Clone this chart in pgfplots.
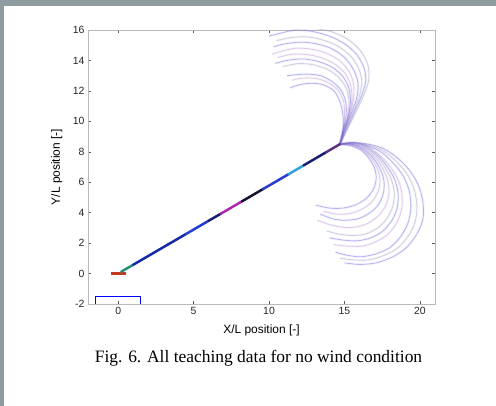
\documentclass[border=0pt]{standalone}
\usepackage{pgfplots}
\pgfplotsset{compat=1.18}
\usepackage{fontspec}
\setmainfont{Liberation Sans}
\newfontfamily\timesfont{Liberation Serif}
\definecolor{bggray}{RGB}{142,156,160}
\definecolor{arcblue}{RGB}{100,90,225}
\definecolor{arcgray}{RGB}{140,135,170}
\definecolor{arcpink}{RGB}{175,120,205}
\definecolor{segteal}{RGB}{40,140,120}
\definecolor{segdblue}{RGB}{20,40,170}
\definecolor{segblue}{RGB}{35,60,210}
\definecolor{segnavy}{RGB}{25,30,110}
\definecolor{segmag}{RGB}{170,40,170}
\definecolor{segblack}{RGB}{20,20,50}
\definecolor{segcyan}{RGB}{50,160,225}
\definecolor{segpurp}{RGB}{90,50,130}
\definecolor{segred}{RGB}{195,55,30}
\pgfplotsset{
  arc/.style={arcblue, line width=0.8pt, opacity=0.42, smooth, mark=none,
    preaction={draw=arcblue, line width=2.6pt, opacity=0.07}},
  arcg/.style={arcgray, line width=0.8pt, opacity=0.35, smooth, mark=none,
    preaction={draw=arcgray, line width=2.6pt, opacity=0.07}},
  arcp/.style={arcpink, line width=0.8pt, opacity=0.35, smooth, mark=none,
    preaction={draw=arcpink, line width=2.6pt, opacity=0.07}},
  seg/.style={line width=2.5pt, line cap=round, mark=none},
}
\begin{document}
\begin{tikzpicture}
\useasboundingbox (0,0) rectangle (496bp,406bp);
\fill[bggray] (0,0) rectangle (496bp,406bp);
\fill[white] (4bp,0) rectangle (496bp,400bp);
\begin{axis}[
  at={(88bp,102bp)}, anchor=south west,
  scale only axis, width=347bp, height=274bp,
  xmin=-2, xmax=21, ymin=-2, ymax=16,
  xtick={0,5,10,15,20}, ytick={-2,0,2,4,6,8,10,12,14,16},
  tick align=inside, xtick pos=both, ytick pos=both,
  major tick length=3bp,
  axis line style={gray!55, line width=0.5pt},
  tick style={gray!70!black, line width=0.4pt},
  /pgf/number format/assume math mode=true,
  ticklabel style={font=\fontsize{10.5}{12}\selectfont, text=black!85},
  xlabel={X/L position [-]}, ylabel={Y/L position [-]},
  label style={font=\fontsize{12}{14}\selectfont},
  xlabel style={at={(axis description cs:0.5,-0.095)}, anchor=center},
  ylabel style={at={(axis description cs:-0.09,0.5)}, anchor=center},
]
% upper fan
\addplot[arcg] coordinates {(14.7,8.5) (15.15,9.4) (15.7,10.5) (16.25,11.65) (16.6,12.7) (16.55,13.7) (16.05,14.65) (15.2,15.4) (14.1,15.9) (13.0,16.1) (11.9,16.2)};
\addplot[arc] coordinates {(14.7,8.5) (15.1,9.4) (15.6,10.5) (16.1,11.6) (16.4,12.6) (16.3,13.5) (15.8,14.4) (15.0,15.1) (14.0,15.6) (12.9,15.9) (11.8,16.0) (10.8,15.8) (10.0,15.6)};
\addplot[arcg] coordinates {(14.7,8.5) (15.05,9.4) (15.5,10.45) (15.95,11.55) (16.15,12.55) (15.95,13.45) (15.4,14.3) (14.55,14.95) (13.55,15.35) (12.5,15.55) (11.45,15.5) (10.5,15.3)};
\addplot[arc] coordinates {(14.7,8.5) (15.0,9.4) (15.4,10.4) (15.8,11.5) (15.9,12.5) (15.6,13.4) (15.0,14.2) (14.1,14.8) (13.1,15.1) (12.1,15.2) (11.1,15.1) (10.3,14.9)};
\addplot[arcp] coordinates {(14.7,8.5) (15.0,9.4) (15.35,10.4) (15.6,11.45) (15.6,12.45) (15.3,13.3) (14.65,14.0) (13.75,14.5) (12.75,14.75) (11.75,14.8) (10.8,14.6) (10.2,14.4)};
\addplot[arcp] coordinates {(14.7,8.5) (15.0,9.4) (15.3,10.4) (15.5,11.4) (15.4,12.4) (15.0,13.2) (14.3,13.8) (13.4,14.2) (12.4,14.4) (11.5,14.4) (10.6,14.2)};
\addplot[arc] coordinates {(14.7,8.5) (14.95,9.4) (15.25,10.35) (15.4,11.35) (15.25,12.3) (14.8,13.05) (14.1,13.6) (13.2,13.95) (12.2,14.1) (11.2,14.0) (10.4,13.8)};
\addplot[arcg] coordinates {(14.7,8.5) (14.9,9.4) (15.2,10.3) (15.3,11.3) (15.1,12.2) (14.6,12.9) (13.9,13.4) (13.0,13.7) (12.0,13.8) (10.9,13.6)};
\addplot[arc] coordinates {(14.7,8.5) (14.9,9.4) (15.1,10.3) (15.1,11.2) (14.8,12.0) (14.2,12.6) (13.4,13.0) (12.4,13.1) (11.2,13.0)};
\addplot[arcp] coordinates {(14.7,8.5) (14.9,9.4) (15.0,10.35) (14.95,11.25) (14.6,12.0) (14.0,12.5) (13.2,12.8) (12.3,12.85) (11.5,12.7)};
\addplot[arc] coordinates {(14.7,8.5) (14.9,9.4) (14.9,10.4) (14.7,11.3) (14.3,12.0) (13.6,12.4) (12.8,12.5) (12.0,12.4) (11.4,12.2)};
% lower fan
\addplot[arc] coordinates {(14.7,8.5) (15.6,8.6) (16.6,8.5) (17.6,8.2) (18.5,7.6) (19.3,6.8) (19.9,5.8) (20.2,4.7) (20.2,3.6) (19.8,2.6) (19.1,1.7) (18.2,1.1) (17.1,0.7) (16.0,0.6) (15.0,0.7)};
\addplot[arcg] coordinates {(14.7,8.5) (15.6,8.6) (16.55,8.45) (17.5,8.1) (18.35,7.45) (19.1,6.6) (19.6,5.6) (19.8,4.5) (19.7,3.45) (19.25,2.5) (18.55,1.7) (17.65,1.2) (16.6,0.9) (15.6,0.9) (14.7,1.0)};
\addplot[arc] coordinates {(14.7,8.5) (15.6,8.6) (16.5,8.4) (17.4,8.0) (18.2,7.3) (18.9,6.4) (19.3,5.4) (19.4,4.3) (19.2,3.3) (18.7,2.4) (18.0,1.7) (17.1,1.3) (16.1,1.1) (15.2,1.2) (14.4,1.4)};
\addplot[arcp] coordinates {(14.7,8.5) (15.5,8.6) (16.4,8.4) (17.2,7.9) (17.9,7.2) (18.5,6.3) (18.8,5.3) (18.8,4.3) (18.5,3.4) (17.9,2.6) (17.1,2.1) (16.2,1.8) (15.2,1.8) (14.3,1.9)};
\addplot[arc] coordinates {(14.7,8.5) (15.5,8.55) (16.35,8.35) (17.1,7.85) (17.75,7.15) (18.3,6.25) (18.55,5.3) (18.5,4.35) (18.15,3.5) (17.55,2.8) (16.75,2.35) (15.85,2.15) (14.9,2.2) (14.0,2.35)};
\addplot[arcg] coordinates {(14.7,8.5) (15.5,8.5) (16.3,8.3) (17.0,7.8) (17.6,7.1) (18.1,6.2) (18.3,5.3) (18.2,4.4) (17.8,3.6) (17.2,3.0) (16.4,2.6) (15.5,2.5) (14.6,2.6) (13.8,2.8)};
\addplot[arcp] coordinates {(14.7,8.5) (15.45,8.5) (16.25,8.25) (16.9,7.75) (17.45,7.05) (17.85,6.2) (17.95,5.35) (17.75,4.5) (17.25,3.8) (16.55,3.3) (15.7,3.05) (14.8,3.05) (13.9,3.25) (13.2,3.5)};
\addplot[arc] coordinates {(14.7,8.5) (15.4,8.5) (16.2,8.2) (16.8,7.7) (17.3,7.0) (17.6,6.2) (17.6,5.4) (17.3,4.6) (16.7,4.0) (15.9,3.6) (15.0,3.5) (14.2,3.6) (13.4,3.9)};
\addplot[arcp] coordinates {(14.7,8.5) (15.4,8.45) (16.15,8.15) (16.7,7.65) (17.15,6.95) (17.35,6.2) (17.25,5.45) (16.85,4.75) (16.2,4.25) (15.4,3.95) (14.5,3.9) (13.6,4.1)};
\addplot[arc] coordinates {(14.7,8.5) (15.4,8.4) (16.1,8.1) (16.6,7.6) (17.0,6.9) (17.1,6.2) (16.9,5.5) (16.4,4.9) (15.7,4.5) (14.9,4.3) (14.0,4.3) (13.1,4.5)};
% start marker region
\addplot[segred, line width=3pt, mark=none] coordinates {(-0.45,0) (0.5,0)};
% main line
\addplot[seg, segteal] coordinates {(0.2,0.12) (1.0,0.58)};
\addplot[seg, segdblue] coordinates {(1.0,0.58) (4.5,2.60)};
\addplot[seg, segblue] coordinates {(4.5,2.60) (6.0,3.47)};
\addplot[seg, segnavy] coordinates {(6.0,3.47) (6.8,3.93)};
\addplot[seg, segmag] coordinates {(6.8,3.93) (8.2,4.74)};
\addplot[seg, segblack] coordinates {(8.2,4.74) (9.6,5.55)};
\addplot[seg, segblue] coordinates {(9.6,5.55) (11.3,6.53)};
\addplot[seg, segcyan] coordinates {(11.3,6.53) (12.3,7.11)};
\addplot[seg, segnavy] coordinates {(12.3,7.11) (13.8,7.98)};
\addplot[seg, segpurp] coordinates {(13.8,7.98) (14.7,8.5)};
% rectangle
\addplot[blue, line width=0.9pt, mark=none] coordinates {(-1.5,-2) (1.5,-2) (1.5,-1.5) (-1.5,-1.5) (-1.5,-2)};
\end{axis}
\node[anchor=base, font=\timesfont\fontsize{17.5}{20}\selectfont] at (258.5bp,43bp) {Fig. 6. All teaching data for no wind condition};
\end{tikzpicture}
\end{document}
